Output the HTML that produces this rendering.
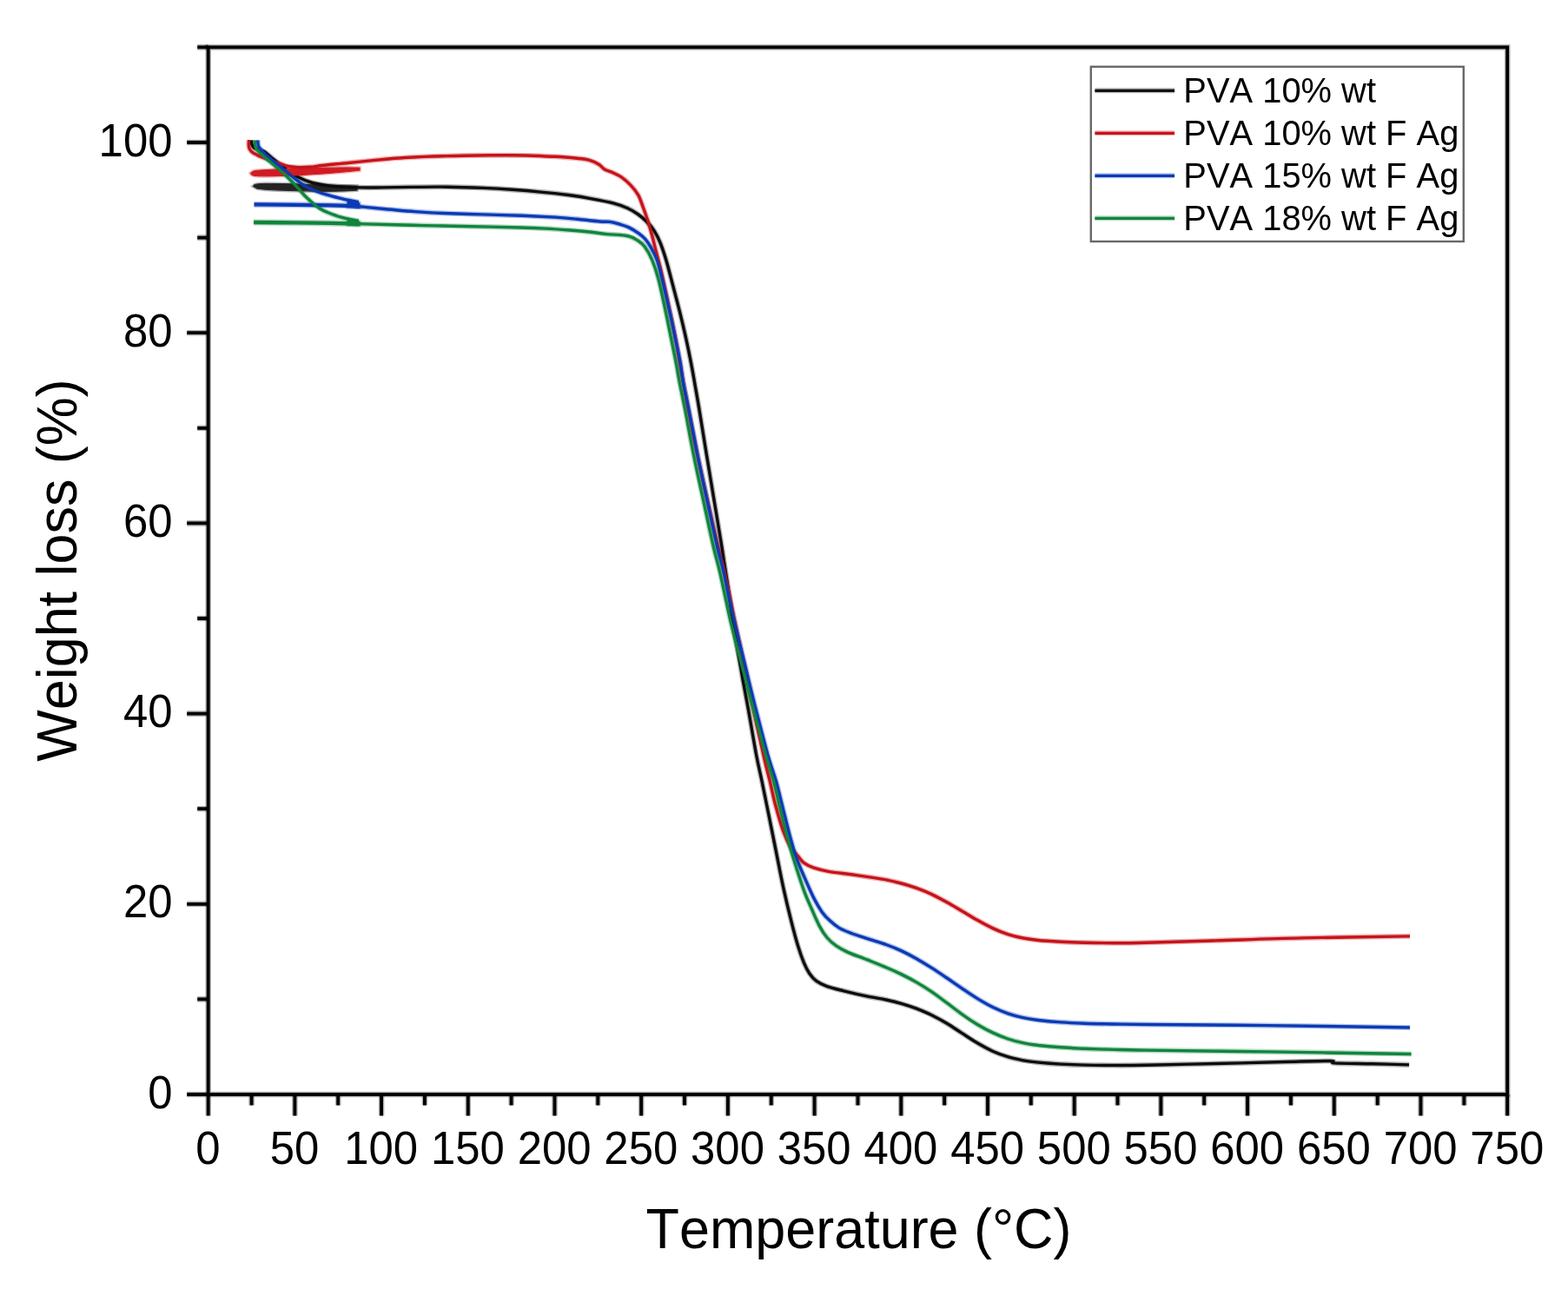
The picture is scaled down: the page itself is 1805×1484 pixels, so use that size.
<!DOCTYPE html>
<html lang="en"><head><meta charset="utf-8"><title>TGA - Weight loss vs Temperature</title>
<style>html,body{margin:0;padding:0;background:#fff}body{width:1805px;height:1484px;overflow:hidden}svg{display:block}text{font-family:"Liberation Sans",Arial,Helvetica,sans-serif;fill:#000;font-kerning:none;letter-spacing:0}</style></head><body>
<svg width="1805" height="1484" viewBox="0 0 1805 1484">
<rect width="1805" height="1484" fill="#fff"/>
<g fill="none" stroke-linecap="butt" stroke-linejoin="round" stroke-width="3.40">
<path d="M291.3 214.5C291.8 214.1 291.7 212.8 294.0 212.3C296.3 211.8 297.8 211.5 305.0 211.4C312.2 211.3 327.8 211.6 337.0 211.8C346.2 212.0 351.2 212.5 360.0 212.8C368.8 213.1 381.5 213.6 390.0 213.8C398.5 214.0 407.5 214.1 411.0 214.2L411.0 219.2C408.3 219.3 401.8 219.8 395.0 220.0C388.2 220.2 379.7 220.4 370.0 220.3C360.3 220.2 347.0 219.9 337.0 219.6C327.0 219.3 316.8 219.0 310.0 218.6C303.2 218.2 298.3 217.4 296.0 217.2Z" fill="none" stroke="#242424" stroke-opacity="0.30" stroke-width="3.80" stroke-linejoin="miter"/>
<path d="M289.5 161.5C289.6 162.3 289.5 165.1 290.0 166.5C290.5 167.9 291.2 169.1 292.5 170.0C293.8 170.9 296.0 171.4 298.0 172.2C300.0 173.0 302.1 173.4 304.4 174.8C306.6 176.2 307.8 177.5 311.5 180.5C315.2 183.5 321.2 188.9 326.5 192.8C331.8 196.7 337.5 200.9 343.0 203.8C348.5 206.8 353.2 208.8 359.7 210.5C366.2 212.2 373.0 213.3 381.9 214.2C390.8 215.1 403.3 215.6 413.0 215.9C422.7 216.2 430.0 216.0 440.0 215.9C450.0 215.8 460.7 215.5 473.2 215.4C485.7 215.2 500.9 215.0 514.8 215.2C528.6 215.4 543.8 215.9 556.3 216.4C568.8 216.9 578.5 217.5 589.6 218.3C600.7 219.1 611.7 220.0 622.8 221.1C633.9 222.1 646.3 223.5 656.0 224.7C665.7 226.0 672.7 227.2 681.0 228.8C689.3 230.3 699.1 232.1 706.0 233.9C712.9 235.7 717.8 237.6 722.5 239.7C727.2 241.8 730.5 243.9 734.2 246.5C737.9 249.1 741.3 252.1 744.5 255.3C747.7 258.5 750.6 261.7 753.2 265.8C755.8 269.9 757.9 274.0 760.2 279.8C762.5 285.6 764.9 292.9 767.2 300.8C769.5 308.7 771.7 317.5 774.2 327.1C776.7 336.7 779.8 348.1 782.4 358.6C785.0 369.1 787.7 380.6 789.8 390.2C791.9 399.8 793.6 408.1 795.2 416.4C796.8 424.7 797.9 430.6 799.5 440.0C801.1 449.4 802.8 458.3 805.1 472.5C807.5 486.7 810.7 507.5 813.6 525.0C816.5 542.5 819.4 560.1 822.3 577.6C825.2 595.1 828.3 612.9 831.0 630.0C833.7 647.1 836.0 663.3 838.5 680.0C841.0 696.7 843.3 712.9 846.1 730.0C848.9 747.1 852.5 768.0 855.1 782.6C857.7 797.2 859.0 803.0 861.6 817.6C864.2 832.2 868.2 856.3 870.8 870.0C873.4 883.7 875.0 889.2 877.2 900.0C879.5 910.8 881.6 921.9 884.3 935.0C886.9 948.1 890.2 964.2 893.1 978.8C896.0 993.4 898.9 1008.9 901.9 1022.6C904.9 1036.3 908.2 1050.0 911.0 1061.1C913.8 1072.2 916.2 1081.2 918.6 1089.1C921.0 1097.0 923.2 1103.1 925.4 1108.4C927.6 1113.7 929.4 1117.2 931.8 1120.7C934.2 1124.2 936.4 1126.9 939.8 1129.4C943.2 1131.9 946.9 1133.7 952.1 1135.6C957.4 1137.5 963.7 1138.9 971.3 1140.8C978.9 1142.7 989.5 1145.2 997.6 1146.9C1005.7 1148.6 1013.4 1149.6 1020.0 1151.0C1026.7 1152.5 1031.7 1153.7 1037.5 1155.4C1043.3 1157.1 1049.2 1159.0 1055.0 1161.2C1060.8 1163.5 1066.8 1165.9 1072.6 1168.7C1078.4 1171.6 1084.3 1174.8 1090.1 1178.3C1095.9 1181.8 1101.8 1185.9 1107.6 1189.6C1113.4 1193.4 1119.2 1197.4 1125.1 1200.8C1130.9 1204.2 1136.8 1207.5 1142.7 1210.2C1148.6 1212.8 1154.4 1215.0 1160.2 1216.7C1166.0 1218.5 1171.9 1219.7 1177.7 1220.8C1183.5 1221.8 1187.9 1222.4 1195.2 1223.1C1202.5 1223.8 1212.7 1224.6 1221.5 1225.1C1230.3 1225.6 1237.6 1225.9 1247.8 1226.1C1258.0 1226.3 1270.8 1226.5 1282.8 1226.5C1294.8 1226.6 1300.5 1226.6 1320.0 1226.2C1339.5 1225.9 1373.1 1225.1 1399.7 1224.5C1426.3 1223.9 1457.5 1223.0 1479.5 1222.5C1501.5 1222.0 1521.9 1221.3 1531.4 1221.5C1540.9 1221.7 1528.3 1223.4 1536.3 1223.9C1544.3 1224.4 1564.9 1224.4 1579.2 1224.7C1593.5 1225.0 1614.9 1225.7 1622.1 1225.9" stroke="#0d0d0d" stroke-opacity="0.30" stroke-width="6.20"/>
<path d="M288.3 199.4C288.9 199.0 290.1 197.5 292.0 196.9C293.9 196.3 295.3 196.3 300.0 196.0C304.7 195.7 312.5 195.2 320.0 194.9C327.5 194.6 335.0 194.3 345.0 194.0C355.0 193.7 370.8 193.4 380.0 193.2C389.2 193.0 394.3 192.9 400.0 192.9C405.7 192.9 411.7 193.1 414.0 193.1L414.0 196.2C411.7 196.4 404.8 197.1 400.0 197.6C395.2 198.1 389.8 198.5 385.0 198.9C380.2 199.3 378.5 199.5 371.0 200.0C363.5 200.5 350.2 201.4 340.0 201.9C329.8 202.4 317.7 202.7 310.0 202.8C302.3 202.9 297.4 202.8 294.0 202.5C290.6 202.2 290.2 201.4 289.5 201.2Z" fill="none" stroke="#d01c22" stroke-opacity="0.30" stroke-width="3.80" stroke-linejoin="miter"/>
<path d="M286.6 161.0C286.6 162.0 286.2 165.2 286.3 167.0C286.4 168.8 286.6 170.1 287.3 171.5C288.0 172.9 289.2 174.2 290.6 175.3C292.1 176.5 294.3 177.5 296.0 178.4C297.7 179.3 298.5 179.7 300.8 180.6C303.1 181.5 306.8 182.8 310.0 184.0C313.2 185.2 317.5 186.7 320.3 187.7C323.1 188.7 324.8 189.4 327.0 190.1C329.2 190.8 331.0 191.3 333.6 191.7C336.2 192.1 338.8 192.5 342.5 192.6C346.2 192.7 351.3 192.7 356.0 192.3C360.7 192.0 364.8 191.2 370.8 190.5C376.8 189.8 384.6 189.1 392.0 188.4C399.4 187.7 406.3 187.0 415.0 186.1C423.7 185.2 435.8 184.0 444.3 183.2C452.8 182.4 458.6 182.0 466.0 181.5C473.4 181.1 481.3 180.7 488.6 180.4C495.9 180.1 502.6 179.9 510.0 179.7C517.4 179.5 523.8 179.3 533.0 179.2C542.2 179.0 555.6 178.9 565.0 178.8C574.4 178.8 582.8 178.7 589.6 178.8C596.4 178.8 597.7 178.8 606.0 179.0C614.3 179.3 629.7 179.8 639.4 180.3C649.1 180.8 658.0 181.6 664.4 182.2C670.8 182.9 673.6 183.0 677.7 184.2C681.9 185.4 686.2 187.4 689.3 189.2C692.3 191.0 693.2 193.4 696.0 195.0C698.8 196.6 702.7 197.4 706.0 199.0C709.3 200.6 712.7 202.0 716.0 204.3C719.3 206.7 722.8 209.8 725.9 213.1C729.0 216.4 732.2 220.2 734.6 224.3C737.0 228.4 738.2 232.9 740.0 237.8C741.8 242.7 743.8 248.1 745.6 253.6C747.4 259.1 748.9 264.6 750.6 271.0C752.3 277.4 754.1 285.0 755.9 292.0C757.7 299.0 758.8 302.5 761.2 313.0C763.6 323.5 767.6 342.2 770.3 355.0C773.0 367.8 774.9 375.8 777.6 390.0C780.3 404.2 783.9 426.2 786.4 440.0C788.9 453.8 789.8 458.3 792.6 472.5C795.4 486.7 799.3 507.5 803.0 525.0C806.7 542.5 810.8 560.1 814.7 577.6C818.6 595.1 823.3 616.3 826.6 630.0C829.9 643.7 831.3 646.2 834.4 660.0C837.5 673.8 841.5 695.0 845.2 712.5C848.9 730.0 852.9 747.5 856.6 765.0C860.3 782.5 863.9 800.1 867.6 817.6C871.3 835.1 875.9 856.3 879.0 870.0C882.1 883.7 884.1 890.6 886.4 900.0C888.6 909.4 890.0 917.0 892.5 926.3C895.0 935.6 898.4 947.8 901.3 956.0C904.2 964.2 907.1 970.3 910.0 975.3C912.9 980.3 916.2 982.7 918.8 985.8C921.4 988.9 922.9 991.5 925.8 993.7C928.7 995.9 931.6 997.3 936.3 998.9C941.0 1000.5 946.5 1002.0 953.8 1003.3C961.1 1004.6 971.3 1005.6 980.1 1006.8C988.9 1008.0 999.8 1009.6 1006.4 1010.6C1013.0 1011.6 1014.8 1011.8 1020.0 1012.9C1025.2 1014.0 1031.7 1015.4 1037.5 1017.0C1043.3 1018.5 1049.2 1020.3 1055.0 1022.4C1060.8 1024.5 1066.8 1026.9 1072.6 1029.6C1078.4 1032.4 1084.3 1035.6 1090.1 1038.8C1095.9 1042.0 1101.8 1045.6 1107.6 1049.0C1113.4 1052.4 1119.2 1056.0 1125.1 1059.3C1130.9 1062.6 1136.8 1065.9 1142.7 1068.6C1148.6 1071.4 1154.4 1073.7 1160.2 1075.6C1166.0 1077.5 1171.9 1078.9 1177.7 1080.0C1183.5 1081.1 1187.9 1081.7 1195.2 1082.5C1202.5 1083.2 1212.7 1083.8 1221.5 1084.3C1230.3 1084.8 1237.6 1085.0 1247.8 1085.2C1258.0 1085.5 1270.8 1085.7 1282.8 1085.7C1294.8 1085.7 1300.5 1085.7 1320.0 1085.2C1339.5 1084.8 1369.8 1083.8 1399.7 1082.9C1429.6 1082.0 1462.2 1080.7 1499.4 1079.9C1536.6 1079.1 1602.4 1078.2 1623.0 1077.9" stroke="#c6131a" stroke-opacity="0.30" stroke-width="6.20"/>
<path d="M296.8 161.5C296.8 162.2 296.8 164.2 297.0 165.5C297.2 166.8 297.1 167.4 298.0 169.0C298.9 170.6 300.4 172.5 302.6 174.8C304.9 177.1 308.6 180.3 311.5 182.8C314.4 185.3 317.4 187.5 320.3 189.9C323.2 192.3 326.2 194.6 329.2 197.0C332.1 199.4 334.8 201.9 338.0 204.5C341.2 207.1 345.1 210.2 348.6 212.5C352.1 214.8 355.3 216.3 359.0 218.0C362.7 219.7 365.1 220.8 370.8 222.6C376.5 224.4 386.0 226.9 393.0 228.6C400.0 230.3 409.7 232.1 413.0 232.8" stroke="#0a3ab6" stroke-opacity="0.30" stroke-width="6.20"/>
<path d="M292.5 235.4C300.4 235.5 325.4 235.7 340.0 235.8C354.6 236.0 367.8 236.1 380.0 236.3C392.2 236.6 407.9 237.1 413.5 237.3" stroke="#0a3ab6" stroke-opacity="0.30" stroke-width="7.00"/>
<path d="M400.0 231.5C401.2 231.7 404.7 232.2 407.0 232.6C409.3 232.9 412.8 233.4 414.0 233.6L414.0 239.4C412.5 239.3 407.3 239.1 405.0 239.0C402.7 238.9 400.8 238.8 400.0 238.8Z" fill="none" stroke="#0a3ab6" stroke-opacity="0.30" stroke-width="3.40" stroke-linejoin="miter"/>
<path d="M408.0 237.2C410.0 237.4 413.9 237.8 420.0 238.4C426.1 239.0 434.7 239.9 444.3 240.8C453.9 241.6 466.5 242.8 477.6 243.6C488.7 244.4 497.9 244.9 510.8 245.5C523.7 246.0 540.2 246.5 555.1 246.9C570.0 247.4 586.0 247.7 600.0 248.2C614.0 248.8 628.7 249.5 639.4 250.1C650.1 250.8 655.8 251.4 664.4 252.2C673.0 253.1 684.5 254.5 690.8 255.0C697.0 255.5 698.2 254.9 701.9 255.4C705.6 255.9 709.3 256.9 713.0 258.0C716.7 259.1 720.3 260.1 724.0 261.9C727.7 263.7 732.0 266.4 735.1 268.6C738.2 270.9 740.5 272.6 742.9 275.4C745.3 278.2 747.5 281.7 749.5 285.2C751.5 288.7 753.4 292.2 755.1 296.3C756.8 300.4 757.0 300.2 759.5 310.0C762.0 319.8 767.1 341.7 770.1 355.1C773.1 368.5 775.4 380.0 777.5 390.2C779.6 400.4 781.4 408.1 782.9 416.4C784.4 424.7 784.8 430.6 786.5 440.0C788.2 449.4 790.3 458.3 793.1 472.5C795.9 486.7 799.7 507.5 803.2 525.0C806.8 542.5 810.6 560.1 814.4 577.6C818.2 595.1 822.6 616.3 825.8 630.0C829.0 643.7 830.3 646.2 833.4 660.0C836.5 673.8 840.6 695.0 844.6 712.5C848.6 730.0 853.1 747.5 857.4 765.0C861.7 782.5 865.9 800.1 870.4 817.6C874.9 835.1 880.2 856.3 884.1 870.0C888.0 883.7 890.8 890.0 893.6 900.0C896.4 910.0 898.5 919.6 901.1 929.8C903.7 940.0 906.4 951.7 909.0 961.3C911.6 970.9 913.7 978.9 916.8 987.6C919.9 996.4 924.3 1005.9 927.7 1013.8C931.1 1021.7 934.2 1028.9 937.3 1034.9C940.4 1040.9 943.3 1045.8 946.2 1049.9C949.1 1054.0 951.6 1056.5 954.9 1059.6C958.2 1062.7 961.9 1065.9 966.1 1068.4C970.3 1070.9 974.9 1072.5 980.1 1074.5C985.4 1076.5 991.0 1078.1 997.6 1080.3C1004.2 1082.5 1013.4 1085.2 1020.0 1087.5C1026.7 1089.9 1031.7 1091.9 1037.5 1094.6C1043.3 1097.3 1049.2 1100.4 1055.0 1103.7C1060.8 1107.0 1066.8 1110.7 1072.6 1114.4C1078.4 1118.1 1084.3 1122.1 1090.1 1126.0C1095.9 1130.0 1101.8 1134.2 1107.6 1138.1C1113.4 1142.0 1119.2 1146.0 1125.1 1149.6C1130.9 1153.1 1136.8 1156.6 1142.7 1159.5C1148.6 1162.3 1154.4 1164.8 1160.2 1166.8C1166.0 1168.8 1171.9 1170.3 1177.7 1171.6C1183.5 1172.9 1187.9 1173.6 1195.2 1174.5C1202.5 1175.3 1212.7 1176.3 1221.5 1176.9C1230.3 1177.5 1237.6 1177.8 1247.8 1178.2C1258.0 1178.6 1270.8 1178.8 1282.8 1179.0C1294.8 1179.2 1290.5 1179.2 1320.0 1179.5C1349.5 1179.7 1409.1 1180.0 1459.6 1180.6C1510.1 1181.2 1595.8 1182.6 1623.0 1183.0" stroke="#0a3ab6" stroke-opacity="0.30" stroke-width="6.20"/>
<path d="M293.7 161.5C293.7 162.2 293.5 164.6 293.6 166.0C293.7 167.4 293.5 168.5 294.3 170.0C295.1 171.5 296.8 173.2 298.2 174.8C299.6 176.4 300.4 177.3 302.6 179.3C304.8 181.3 308.6 184.3 311.5 186.8C314.4 189.3 317.4 191.7 320.3 194.3C323.2 196.9 326.2 199.5 329.2 202.3C332.1 205.1 335.7 208.8 338.0 211.2C340.3 213.6 340.8 214.1 343.0 216.5C345.2 218.9 348.2 222.7 351.0 225.5C353.8 228.3 356.9 231.1 359.7 233.5C362.5 235.9 365.2 238.2 368.0 240.0C370.8 241.8 372.1 242.5 376.3 244.2C380.5 245.9 386.9 248.5 393.0 250.2C399.1 251.9 409.7 253.8 413.0 254.5" stroke="#10853c" stroke-opacity="0.30" stroke-width="6.20"/>
<path d="M292.0 256.0C300.0 256.1 325.3 256.2 340.0 256.4C354.7 256.5 367.8 256.7 380.0 256.9C392.2 257.1 407.9 257.5 413.5 257.6" stroke="#10853c" stroke-opacity="0.30" stroke-width="7.20"/>
<path d="M400.0 253.0C401.2 253.2 404.7 253.8 407.0 254.2C409.3 254.6 412.8 255.0 414.0 255.2L414.0 259.8C412.5 259.8 407.3 259.7 405.0 259.6C402.7 259.5 400.8 259.4 400.0 259.4Z" fill="none" stroke="#10853c" stroke-opacity="0.30" stroke-width="3.40" stroke-linejoin="miter"/>
<path d="M408.0 257.5C410.0 257.6 413.9 257.7 420.0 257.9C426.1 258.0 432.9 258.2 444.3 258.5C455.7 258.8 473.8 259.2 488.6 259.6C503.4 259.9 514.4 260.1 533.0 260.5C551.6 260.9 585.0 261.6 600.0 262.0C615.0 262.4 613.5 262.4 622.8 262.9C632.1 263.4 646.3 264.2 656.0 265.0C665.7 265.7 673.8 266.5 681.0 267.3C688.2 268.1 693.8 269.1 699.3 269.6C704.8 270.1 709.8 270.1 714.0 270.5C718.2 270.9 721.3 271.2 724.5 272.2C727.7 273.2 730.4 274.4 733.3 276.3C736.2 278.2 739.1 279.9 742.0 283.8C744.9 287.7 748.2 293.4 750.8 299.6C753.4 305.8 755.5 312.1 757.8 320.8C760.1 329.5 762.3 340.0 764.8 351.6C767.3 363.2 770.5 379.4 772.7 390.2C774.9 401.0 776.4 408.1 778.0 416.4C779.6 424.7 780.4 430.6 782.2 440.0C784.0 449.4 786.0 458.3 788.8 472.5C791.5 486.7 795.2 507.5 798.7 525.0C802.2 542.5 806.2 560.1 810.0 577.6C813.8 595.1 818.2 616.3 821.4 630.0C824.6 643.7 825.8 646.2 829.0 660.0C832.2 673.8 836.3 695.0 840.4 712.5C844.5 730.0 849.1 747.5 853.6 765.0C858.1 782.5 862.9 800.1 867.6 817.6C872.3 835.1 877.7 856.3 881.6 870.0C885.5 883.7 888.1 890.0 890.8 900.0C893.5 910.0 895.2 919.0 897.8 929.8C900.4 940.6 903.6 954.0 906.5 964.8C909.4 975.6 912.1 984.4 915.3 994.6C918.5 1004.8 922.6 1017.4 925.8 1026.1C929.0 1034.8 931.7 1040.3 934.6 1047.0C937.5 1053.7 940.4 1060.7 943.3 1066.1C946.2 1071.5 948.9 1075.7 952.1 1079.5C955.3 1083.3 958.5 1086.1 962.6 1088.9C966.7 1091.8 970.8 1094.0 976.6 1096.6C982.4 1099.2 990.4 1101.8 997.6 1104.7C1004.8 1107.6 1013.4 1111.0 1020.0 1113.8C1026.7 1116.6 1031.7 1118.8 1037.5 1121.6C1043.3 1124.4 1049.2 1127.5 1055.0 1130.9C1060.8 1134.2 1066.8 1138.0 1072.6 1141.9C1078.4 1145.9 1084.3 1150.4 1090.1 1154.7C1095.9 1159.0 1101.8 1163.7 1107.6 1167.8C1113.4 1172.0 1119.2 1175.9 1125.1 1179.5C1130.9 1183.0 1136.8 1186.2 1142.7 1188.9C1148.6 1191.7 1154.4 1194.0 1160.2 1196.0C1166.0 1198.0 1171.9 1199.5 1177.7 1200.7C1183.5 1202.0 1187.9 1202.6 1195.2 1203.5C1202.5 1204.3 1212.7 1205.2 1221.5 1205.8C1230.3 1206.5 1237.6 1206.8 1247.8 1207.3C1258.0 1207.7 1270.8 1208.1 1282.8 1208.4C1294.8 1208.7 1290.5 1208.7 1320.0 1209.1C1349.5 1209.5 1408.8 1210.2 1459.6 1210.9C1510.4 1211.6 1597.1 1213.1 1624.6 1213.5" stroke="#10853c" stroke-opacity="0.30" stroke-width="6.20"/>
<path d="M291.3 214.5C291.8 214.1 291.7 212.8 294.0 212.3C296.3 211.8 297.8 211.5 305.0 211.4C312.2 211.3 327.8 211.6 337.0 211.8C346.2 212.0 351.2 212.5 360.0 212.8C368.8 213.1 381.5 213.6 390.0 213.8C398.5 214.0 407.5 214.1 411.0 214.2L411.0 219.2C408.3 219.3 401.8 219.8 395.0 220.0C388.2 220.2 379.7 220.4 370.0 220.3C360.3 220.2 347.0 219.9 337.0 219.6C327.0 219.3 316.8 219.0 310.0 218.6C303.2 218.2 298.3 217.4 296.0 217.2Z" fill="#242424" stroke="#242424" stroke-width="1.00" stroke-linejoin="miter"/>
<path d="M289.5 161.5C289.6 162.3 289.5 165.1 290.0 166.5C290.5 167.9 291.2 169.1 292.5 170.0C293.8 170.9 296.0 171.4 298.0 172.2C300.0 173.0 302.1 173.4 304.4 174.8C306.6 176.2 307.8 177.5 311.5 180.5C315.2 183.5 321.2 188.9 326.5 192.8C331.8 196.7 337.5 200.9 343.0 203.8C348.5 206.8 353.2 208.8 359.7 210.5C366.2 212.2 373.0 213.3 381.9 214.2C390.8 215.1 403.3 215.6 413.0 215.9C422.7 216.2 430.0 216.0 440.0 215.9C450.0 215.8 460.7 215.5 473.2 215.4C485.7 215.2 500.9 215.0 514.8 215.2C528.6 215.4 543.8 215.9 556.3 216.4C568.8 216.9 578.5 217.5 589.6 218.3C600.7 219.1 611.7 220.0 622.8 221.1C633.9 222.1 646.3 223.5 656.0 224.7C665.7 226.0 672.7 227.2 681.0 228.8C689.3 230.3 699.1 232.1 706.0 233.9C712.9 235.7 717.8 237.6 722.5 239.7C727.2 241.8 730.5 243.9 734.2 246.5C737.9 249.1 741.3 252.1 744.5 255.3C747.7 258.5 750.6 261.7 753.2 265.8C755.8 269.9 757.9 274.0 760.2 279.8C762.5 285.6 764.9 292.9 767.2 300.8C769.5 308.7 771.7 317.5 774.2 327.1C776.7 336.7 779.8 348.1 782.4 358.6C785.0 369.1 787.7 380.6 789.8 390.2C791.9 399.8 793.6 408.1 795.2 416.4C796.8 424.7 797.9 430.6 799.5 440.0C801.1 449.4 802.8 458.3 805.1 472.5C807.5 486.7 810.7 507.5 813.6 525.0C816.5 542.5 819.4 560.1 822.3 577.6C825.2 595.1 828.3 612.9 831.0 630.0C833.7 647.1 836.0 663.3 838.5 680.0C841.0 696.7 843.3 712.9 846.1 730.0C848.9 747.1 852.5 768.0 855.1 782.6C857.7 797.2 859.0 803.0 861.6 817.6C864.2 832.2 868.2 856.3 870.8 870.0C873.4 883.7 875.0 889.2 877.2 900.0C879.5 910.8 881.6 921.9 884.3 935.0C886.9 948.1 890.2 964.2 893.1 978.8C896.0 993.4 898.9 1008.9 901.9 1022.6C904.9 1036.3 908.2 1050.0 911.0 1061.1C913.8 1072.2 916.2 1081.2 918.6 1089.1C921.0 1097.0 923.2 1103.1 925.4 1108.4C927.6 1113.7 929.4 1117.2 931.8 1120.7C934.2 1124.2 936.4 1126.9 939.8 1129.4C943.2 1131.9 946.9 1133.7 952.1 1135.6C957.4 1137.5 963.7 1138.9 971.3 1140.8C978.9 1142.7 989.5 1145.2 997.6 1146.9C1005.7 1148.6 1013.4 1149.6 1020.0 1151.0C1026.7 1152.5 1031.7 1153.7 1037.5 1155.4C1043.3 1157.1 1049.2 1159.0 1055.0 1161.2C1060.8 1163.5 1066.8 1165.9 1072.6 1168.7C1078.4 1171.6 1084.3 1174.8 1090.1 1178.3C1095.9 1181.8 1101.8 1185.9 1107.6 1189.6C1113.4 1193.4 1119.2 1197.4 1125.1 1200.8C1130.9 1204.2 1136.8 1207.5 1142.7 1210.2C1148.6 1212.8 1154.4 1215.0 1160.2 1216.7C1166.0 1218.5 1171.9 1219.7 1177.7 1220.8C1183.5 1221.8 1187.9 1222.4 1195.2 1223.1C1202.5 1223.8 1212.7 1224.6 1221.5 1225.1C1230.3 1225.6 1237.6 1225.9 1247.8 1226.1C1258.0 1226.3 1270.8 1226.5 1282.8 1226.5C1294.8 1226.6 1300.5 1226.6 1320.0 1226.2C1339.5 1225.9 1373.1 1225.1 1399.7 1224.5C1426.3 1223.9 1457.5 1223.0 1479.5 1222.5C1501.5 1222.0 1521.9 1221.3 1531.4 1221.5C1540.9 1221.7 1528.3 1223.4 1536.3 1223.9C1544.3 1224.4 1564.9 1224.4 1579.2 1224.7C1593.5 1225.0 1614.9 1225.7 1622.1 1225.9" stroke="#0d0d0d" stroke-width="3.40"/>
<path d="M288.3 199.4C288.9 199.0 290.1 197.5 292.0 196.9C293.9 196.3 295.3 196.3 300.0 196.0C304.7 195.7 312.5 195.2 320.0 194.9C327.5 194.6 335.0 194.3 345.0 194.0C355.0 193.7 370.8 193.4 380.0 193.2C389.2 193.0 394.3 192.9 400.0 192.9C405.7 192.9 411.7 193.1 414.0 193.1L414.0 196.2C411.7 196.4 404.8 197.1 400.0 197.6C395.2 198.1 389.8 198.5 385.0 198.9C380.2 199.3 378.5 199.5 371.0 200.0C363.5 200.5 350.2 201.4 340.0 201.9C329.8 202.4 317.7 202.7 310.0 202.8C302.3 202.9 297.4 202.8 294.0 202.5C290.6 202.2 290.2 201.4 289.5 201.2Z" fill="#d01c22" stroke="#d01c22" stroke-width="1.00" stroke-linejoin="miter"/>
<path d="M286.6 161.0C286.6 162.0 286.2 165.2 286.3 167.0C286.4 168.8 286.6 170.1 287.3 171.5C288.0 172.9 289.2 174.2 290.6 175.3C292.1 176.5 294.3 177.5 296.0 178.4C297.7 179.3 298.5 179.7 300.8 180.6C303.1 181.5 306.8 182.8 310.0 184.0C313.2 185.2 317.5 186.7 320.3 187.7C323.1 188.7 324.8 189.4 327.0 190.1C329.2 190.8 331.0 191.3 333.6 191.7C336.2 192.1 338.8 192.5 342.5 192.6C346.2 192.7 351.3 192.7 356.0 192.3C360.7 192.0 364.8 191.2 370.8 190.5C376.8 189.8 384.6 189.1 392.0 188.4C399.4 187.7 406.3 187.0 415.0 186.1C423.7 185.2 435.8 184.0 444.3 183.2C452.8 182.4 458.6 182.0 466.0 181.5C473.4 181.1 481.3 180.7 488.6 180.4C495.9 180.1 502.6 179.9 510.0 179.7C517.4 179.5 523.8 179.3 533.0 179.2C542.2 179.0 555.6 178.9 565.0 178.8C574.4 178.8 582.8 178.7 589.6 178.8C596.4 178.8 597.7 178.8 606.0 179.0C614.3 179.3 629.7 179.8 639.4 180.3C649.1 180.8 658.0 181.6 664.4 182.2C670.8 182.9 673.6 183.0 677.7 184.2C681.9 185.4 686.2 187.4 689.3 189.2C692.3 191.0 693.2 193.4 696.0 195.0C698.8 196.6 702.7 197.4 706.0 199.0C709.3 200.6 712.7 202.0 716.0 204.3C719.3 206.7 722.8 209.8 725.9 213.1C729.0 216.4 732.2 220.2 734.6 224.3C737.0 228.4 738.2 232.9 740.0 237.8C741.8 242.7 743.8 248.1 745.6 253.6C747.4 259.1 748.9 264.6 750.6 271.0C752.3 277.4 754.1 285.0 755.9 292.0C757.7 299.0 758.8 302.5 761.2 313.0C763.6 323.5 767.6 342.2 770.3 355.0C773.0 367.8 774.9 375.8 777.6 390.0C780.3 404.2 783.9 426.2 786.4 440.0C788.9 453.8 789.8 458.3 792.6 472.5C795.4 486.7 799.3 507.5 803.0 525.0C806.7 542.5 810.8 560.1 814.7 577.6C818.6 595.1 823.3 616.3 826.6 630.0C829.9 643.7 831.3 646.2 834.4 660.0C837.5 673.8 841.5 695.0 845.2 712.5C848.9 730.0 852.9 747.5 856.6 765.0C860.3 782.5 863.9 800.1 867.6 817.6C871.3 835.1 875.9 856.3 879.0 870.0C882.1 883.7 884.1 890.6 886.4 900.0C888.6 909.4 890.0 917.0 892.5 926.3C895.0 935.6 898.4 947.8 901.3 956.0C904.2 964.2 907.1 970.3 910.0 975.3C912.9 980.3 916.2 982.7 918.8 985.8C921.4 988.9 922.9 991.5 925.8 993.7C928.7 995.9 931.6 997.3 936.3 998.9C941.0 1000.5 946.5 1002.0 953.8 1003.3C961.1 1004.6 971.3 1005.6 980.1 1006.8C988.9 1008.0 999.8 1009.6 1006.4 1010.6C1013.0 1011.6 1014.8 1011.8 1020.0 1012.9C1025.2 1014.0 1031.7 1015.4 1037.5 1017.0C1043.3 1018.5 1049.2 1020.3 1055.0 1022.4C1060.8 1024.5 1066.8 1026.9 1072.6 1029.6C1078.4 1032.4 1084.3 1035.6 1090.1 1038.8C1095.9 1042.0 1101.8 1045.6 1107.6 1049.0C1113.4 1052.4 1119.2 1056.0 1125.1 1059.3C1130.9 1062.6 1136.8 1065.9 1142.7 1068.6C1148.6 1071.4 1154.4 1073.7 1160.2 1075.6C1166.0 1077.5 1171.9 1078.9 1177.7 1080.0C1183.5 1081.1 1187.9 1081.7 1195.2 1082.5C1202.5 1083.2 1212.7 1083.8 1221.5 1084.3C1230.3 1084.8 1237.6 1085.0 1247.8 1085.2C1258.0 1085.5 1270.8 1085.7 1282.8 1085.7C1294.8 1085.7 1300.5 1085.7 1320.0 1085.2C1339.5 1084.8 1369.8 1083.8 1399.7 1082.9C1429.6 1082.0 1462.2 1080.7 1499.4 1079.9C1536.6 1079.1 1602.4 1078.2 1623.0 1077.9" stroke="#c6131a" stroke-width="3.40"/>
<path d="M296.8 161.5C296.8 162.2 296.8 164.2 297.0 165.5C297.2 166.8 297.1 167.4 298.0 169.0C298.9 170.6 300.4 172.5 302.6 174.8C304.9 177.1 308.6 180.3 311.5 182.8C314.4 185.3 317.4 187.5 320.3 189.9C323.2 192.3 326.2 194.6 329.2 197.0C332.1 199.4 334.8 201.9 338.0 204.5C341.2 207.1 345.1 210.2 348.6 212.5C352.1 214.8 355.3 216.3 359.0 218.0C362.7 219.7 365.1 220.8 370.8 222.6C376.5 224.4 386.0 226.9 393.0 228.6C400.0 230.3 409.7 232.1 413.0 232.8" stroke="#0a3ab6" stroke-width="3.40"/>
<path d="M292.5 235.4C300.4 235.5 325.4 235.7 340.0 235.8C354.6 236.0 367.8 236.1 380.0 236.3C392.2 236.6 407.9 237.1 413.5 237.3" stroke="#0a3ab6" stroke-width="4.20"/>
<path d="M400.0 231.5C401.2 231.7 404.7 232.2 407.0 232.6C409.3 232.9 412.8 233.4 414.0 233.6L414.0 239.4C412.5 239.3 407.3 239.1 405.0 239.0C402.7 238.9 400.8 238.8 400.0 238.8Z" fill="#0a3ab6" stroke="#0a3ab6" stroke-width="0.60" stroke-linejoin="miter"/>
<path d="M408.0 237.2C410.0 237.4 413.9 237.8 420.0 238.4C426.1 239.0 434.7 239.9 444.3 240.8C453.9 241.6 466.5 242.8 477.6 243.6C488.7 244.4 497.9 244.9 510.8 245.5C523.7 246.0 540.2 246.5 555.1 246.9C570.0 247.4 586.0 247.7 600.0 248.2C614.0 248.8 628.7 249.5 639.4 250.1C650.1 250.8 655.8 251.4 664.4 252.2C673.0 253.1 684.5 254.5 690.8 255.0C697.0 255.5 698.2 254.9 701.9 255.4C705.6 255.9 709.3 256.9 713.0 258.0C716.7 259.1 720.3 260.1 724.0 261.9C727.7 263.7 732.0 266.4 735.1 268.6C738.2 270.9 740.5 272.6 742.9 275.4C745.3 278.2 747.5 281.7 749.5 285.2C751.5 288.7 753.4 292.2 755.1 296.3C756.8 300.4 757.0 300.2 759.5 310.0C762.0 319.8 767.1 341.7 770.1 355.1C773.1 368.5 775.4 380.0 777.5 390.2C779.6 400.4 781.4 408.1 782.9 416.4C784.4 424.7 784.8 430.6 786.5 440.0C788.2 449.4 790.3 458.3 793.1 472.5C795.9 486.7 799.7 507.5 803.2 525.0C806.8 542.5 810.6 560.1 814.4 577.6C818.2 595.1 822.6 616.3 825.8 630.0C829.0 643.7 830.3 646.2 833.4 660.0C836.5 673.8 840.6 695.0 844.6 712.5C848.6 730.0 853.1 747.5 857.4 765.0C861.7 782.5 865.9 800.1 870.4 817.6C874.9 835.1 880.2 856.3 884.1 870.0C888.0 883.7 890.8 890.0 893.6 900.0C896.4 910.0 898.5 919.6 901.1 929.8C903.7 940.0 906.4 951.7 909.0 961.3C911.6 970.9 913.7 978.9 916.8 987.6C919.9 996.4 924.3 1005.9 927.7 1013.8C931.1 1021.7 934.2 1028.9 937.3 1034.9C940.4 1040.9 943.3 1045.8 946.2 1049.9C949.1 1054.0 951.6 1056.5 954.9 1059.6C958.2 1062.7 961.9 1065.9 966.1 1068.4C970.3 1070.9 974.9 1072.5 980.1 1074.5C985.4 1076.5 991.0 1078.1 997.6 1080.3C1004.2 1082.5 1013.4 1085.2 1020.0 1087.5C1026.7 1089.9 1031.7 1091.9 1037.5 1094.6C1043.3 1097.3 1049.2 1100.4 1055.0 1103.7C1060.8 1107.0 1066.8 1110.7 1072.6 1114.4C1078.4 1118.1 1084.3 1122.1 1090.1 1126.0C1095.9 1130.0 1101.8 1134.2 1107.6 1138.1C1113.4 1142.0 1119.2 1146.0 1125.1 1149.6C1130.9 1153.1 1136.8 1156.6 1142.7 1159.5C1148.6 1162.3 1154.4 1164.8 1160.2 1166.8C1166.0 1168.8 1171.9 1170.3 1177.7 1171.6C1183.5 1172.9 1187.9 1173.6 1195.2 1174.5C1202.5 1175.3 1212.7 1176.3 1221.5 1176.9C1230.3 1177.5 1237.6 1177.8 1247.8 1178.2C1258.0 1178.6 1270.8 1178.8 1282.8 1179.0C1294.8 1179.2 1290.5 1179.2 1320.0 1179.5C1349.5 1179.7 1409.1 1180.0 1459.6 1180.6C1510.1 1181.2 1595.8 1182.6 1623.0 1183.0" stroke="#0a3ab6" stroke-width="3.40"/>
<path d="M293.7 161.5C293.7 162.2 293.5 164.6 293.6 166.0C293.7 167.4 293.5 168.5 294.3 170.0C295.1 171.5 296.8 173.2 298.2 174.8C299.6 176.4 300.4 177.3 302.6 179.3C304.8 181.3 308.6 184.3 311.5 186.8C314.4 189.3 317.4 191.7 320.3 194.3C323.2 196.9 326.2 199.5 329.2 202.3C332.1 205.1 335.7 208.8 338.0 211.2C340.3 213.6 340.8 214.1 343.0 216.5C345.2 218.9 348.2 222.7 351.0 225.5C353.8 228.3 356.9 231.1 359.7 233.5C362.5 235.9 365.2 238.2 368.0 240.0C370.8 241.8 372.1 242.5 376.3 244.2C380.5 245.9 386.9 248.5 393.0 250.2C399.1 251.9 409.7 253.8 413.0 254.5" stroke="#10853c" stroke-width="3.40"/>
<path d="M292.0 256.0C300.0 256.1 325.3 256.2 340.0 256.4C354.7 256.5 367.8 256.7 380.0 256.9C392.2 257.1 407.9 257.5 413.5 257.6" stroke="#10853c" stroke-width="4.40"/>
<path d="M400.0 253.0C401.2 253.2 404.7 253.8 407.0 254.2C409.3 254.6 412.8 255.0 414.0 255.2L414.0 259.8C412.5 259.8 407.3 259.7 405.0 259.6C402.7 259.5 400.8 259.4 400.0 259.4Z" fill="#10853c" stroke="#10853c" stroke-width="0.60" stroke-linejoin="miter"/>
<path d="M408.0 257.5C410.0 257.6 413.9 257.7 420.0 257.9C426.1 258.0 432.9 258.2 444.3 258.5C455.7 258.8 473.8 259.2 488.6 259.6C503.4 259.9 514.4 260.1 533.0 260.5C551.6 260.9 585.0 261.6 600.0 262.0C615.0 262.4 613.5 262.4 622.8 262.9C632.1 263.4 646.3 264.2 656.0 265.0C665.7 265.7 673.8 266.5 681.0 267.3C688.2 268.1 693.8 269.1 699.3 269.6C704.8 270.1 709.8 270.1 714.0 270.5C718.2 270.9 721.3 271.2 724.5 272.2C727.7 273.2 730.4 274.4 733.3 276.3C736.2 278.2 739.1 279.9 742.0 283.8C744.9 287.7 748.2 293.4 750.8 299.6C753.4 305.8 755.5 312.1 757.8 320.8C760.1 329.5 762.3 340.0 764.8 351.6C767.3 363.2 770.5 379.4 772.7 390.2C774.9 401.0 776.4 408.1 778.0 416.4C779.6 424.7 780.4 430.6 782.2 440.0C784.0 449.4 786.0 458.3 788.8 472.5C791.5 486.7 795.2 507.5 798.7 525.0C802.2 542.5 806.2 560.1 810.0 577.6C813.8 595.1 818.2 616.3 821.4 630.0C824.6 643.7 825.8 646.2 829.0 660.0C832.2 673.8 836.3 695.0 840.4 712.5C844.5 730.0 849.1 747.5 853.6 765.0C858.1 782.5 862.9 800.1 867.6 817.6C872.3 835.1 877.7 856.3 881.6 870.0C885.5 883.7 888.1 890.0 890.8 900.0C893.5 910.0 895.2 919.0 897.8 929.8C900.4 940.6 903.6 954.0 906.5 964.8C909.4 975.6 912.1 984.4 915.3 994.6C918.5 1004.8 922.6 1017.4 925.8 1026.1C929.0 1034.8 931.7 1040.3 934.6 1047.0C937.5 1053.7 940.4 1060.7 943.3 1066.1C946.2 1071.5 948.9 1075.7 952.1 1079.5C955.3 1083.3 958.5 1086.1 962.6 1088.9C966.7 1091.8 970.8 1094.0 976.6 1096.6C982.4 1099.2 990.4 1101.8 997.6 1104.7C1004.8 1107.6 1013.4 1111.0 1020.0 1113.8C1026.7 1116.6 1031.7 1118.8 1037.5 1121.6C1043.3 1124.4 1049.2 1127.5 1055.0 1130.9C1060.8 1134.2 1066.8 1138.0 1072.6 1141.9C1078.4 1145.9 1084.3 1150.4 1090.1 1154.7C1095.9 1159.0 1101.8 1163.7 1107.6 1167.8C1113.4 1172.0 1119.2 1175.9 1125.1 1179.5C1130.9 1183.0 1136.8 1186.2 1142.7 1188.9C1148.6 1191.7 1154.4 1194.0 1160.2 1196.0C1166.0 1198.0 1171.9 1199.5 1177.7 1200.7C1183.5 1202.0 1187.9 1202.6 1195.2 1203.5C1202.5 1204.3 1212.7 1205.2 1221.5 1205.8C1230.3 1206.5 1237.6 1206.8 1247.8 1207.3C1258.0 1207.7 1270.8 1208.1 1282.8 1208.4C1294.8 1208.7 1290.5 1208.7 1320.0 1209.1C1349.5 1209.5 1408.8 1210.2 1459.6 1210.9C1510.4 1211.6 1597.1 1213.1 1624.6 1213.5" stroke="#10853c" stroke-width="3.40"/>
</g>
<g stroke="#000" stroke-opacity="0.30" stroke-width="6.60" fill="none" stroke-linecap="butt">
<rect x="239.7" y="54.4" width="1495.5" height="1205.6"/>
<path d="M239.7 1260.0v24.5M289.6 1260.0v12.5M339.4 1260.0v24.5M389.2 1260.0v12.5M439.1 1260.0v24.5M488.9 1260.0v12.5M538.8 1260.0v24.5M588.6 1260.0v12.5M638.5 1260.0v24.5M688.3 1260.0v12.5M738.2 1260.0v24.5M788.0 1260.0v12.5M837.9 1260.0v24.5M887.8 1260.0v12.5M937.6 1260.0v24.5M987.5 1260.0v12.5M1037.3 1260.0v24.5M1087.2 1260.0v12.5M1137.0 1260.0v24.5M1186.8 1260.0v12.5M1236.7 1260.0v24.5M1286.5 1260.0v12.5M1336.4 1260.0v24.5M1386.2 1260.0v12.5M1436.1 1260.0v24.5M1486.0 1260.0v12.5M1535.8 1260.0v24.5M1585.7 1260.0v12.5M1635.5 1260.0v24.5M1685.4 1260.0v12.5M1735.2 1260.0v24.5M239.7 1260.0h-24.5M239.7 1150.4h-12.5M239.7 1040.8h-24.5M239.7 931.2h-12.5M239.7 821.6h-24.5M239.7 712.0h-12.5M239.7 602.4h-24.5M239.7 492.8h-12.5M239.7 383.2h-24.5M239.7 273.6h-12.5M239.7 164.0h-24.5M239.7 54.4h-12.5"/>
</g>
<g stroke="#000" stroke-width="3.80" fill="none" stroke-linecap="butt">
<rect x="239.7" y="54.4" width="1495.5" height="1205.6"/>
<path d="M239.7 1260.0v24.5M289.6 1260.0v12.5M339.4 1260.0v24.5M389.2 1260.0v12.5M439.1 1260.0v24.5M488.9 1260.0v12.5M538.8 1260.0v24.5M588.6 1260.0v12.5M638.5 1260.0v24.5M688.3 1260.0v12.5M738.2 1260.0v24.5M788.0 1260.0v12.5M837.9 1260.0v24.5M887.8 1260.0v12.5M937.6 1260.0v24.5M987.5 1260.0v12.5M1037.3 1260.0v24.5M1087.2 1260.0v12.5M1137.0 1260.0v24.5M1186.8 1260.0v12.5M1236.7 1260.0v24.5M1286.5 1260.0v12.5M1336.4 1260.0v24.5M1386.2 1260.0v12.5M1436.1 1260.0v24.5M1486.0 1260.0v12.5M1535.8 1260.0v24.5M1585.7 1260.0v12.5M1635.5 1260.0v24.5M1685.4 1260.0v12.5M1735.2 1260.0v24.5M239.7 1260.0h-24.5M239.7 1150.4h-12.5M239.7 1040.8h-24.5M239.7 931.2h-12.5M239.7 821.6h-24.5M239.7 712.0h-12.5M239.7 602.4h-24.5M239.7 492.8h-12.5M239.7 383.2h-24.5M239.7 273.6h-12.5M239.7 164.0h-24.5M239.7 54.4h-12.5"/>
</g>
<g font-size="50.9" text-anchor="middle">
<text transform="translate(239.3 1340.0) scale(1 1.045)">0</text>
<text transform="translate(339.0 1340.0) scale(1 1.045)">50</text>
<text transform="translate(438.7 1340.0) scale(1 1.045)">100</text>
<text transform="translate(538.4 1340.0) scale(1 1.045)">150</text>
<text transform="translate(638.1 1340.0) scale(1 1.045)">200</text>
<text transform="translate(737.8 1340.0) scale(1 1.045)">250</text>
<text transform="translate(837.5 1340.0) scale(1 1.045)">300</text>
<text transform="translate(937.2 1340.0) scale(1 1.045)">350</text>
<text transform="translate(1036.9 1340.0) scale(1 1.045)">400</text>
<text transform="translate(1136.6 1340.0) scale(1 1.045)">450</text>
<text transform="translate(1236.3 1340.0) scale(1 1.045)">500</text>
<text transform="translate(1336.0 1340.0) scale(1 1.045)">550</text>
<text transform="translate(1435.7 1340.0) scale(1 1.045)">600</text>
<text transform="translate(1535.4 1340.0) scale(1 1.045)">650</text>
<text transform="translate(1635.1 1340.0) scale(1 1.045)">700</text>
<text transform="translate(1734.8 1340.0) scale(1 1.045)">750</text>
</g>
<g font-size="50.9" text-anchor="end">
<text transform="translate(198.5 1275.5) scale(1 1.045)">0</text>
<text transform="translate(198.5 1056.3) scale(1 1.045)">20</text>
<text transform="translate(198.5 837.1) scale(1 1.045)">40</text>
<text transform="translate(198.5 617.9) scale(1 1.045)">60</text>
<text transform="translate(198.5 398.7) scale(1 1.045)">80</text>
<text transform="translate(198.5 179.5) scale(1 1.045)">100</text>
</g>
<text transform="translate(988.5 1437.2) scale(1 1.020)" font-size="62.9" text-anchor="middle">Temperature (°C)</text>
<text transform="translate(87.6 656.5) rotate(-90) scale(1 1.020)" font-size="62.9" text-anchor="middle">Weight loss (%)</text>
<rect x="1255.8" y="76.8" width="429.0" height="201.2" fill="#fff" stroke="#686868" stroke-width="2.4"/>
<g font-size="39.9">
<line x1="1260.4" y1="104.3" x2="1352.1" y2="104.3" stroke="#111" stroke-opacity="0.30" stroke-width="6.1"/>
<line x1="1260.4" y1="104.3" x2="1352.1" y2="104.3" stroke="#111" stroke-width="3.3"/>
<text transform="translate(1362.3 117.6) scale(1 1.035)">PVA 10% wt</text>
<line x1="1260.4" y1="153.3" x2="1352.1" y2="153.3" stroke="#c6131a" stroke-opacity="0.30" stroke-width="6.1"/>
<line x1="1260.4" y1="153.3" x2="1352.1" y2="153.3" stroke="#c6131a" stroke-width="3.3"/>
<text transform="translate(1362.3 166.6) scale(1 1.035)">PVA 10% wt F Ag</text>
<line x1="1260.4" y1="202.3" x2="1352.1" y2="202.3" stroke="#0a3ab6" stroke-opacity="0.30" stroke-width="6.1"/>
<line x1="1260.4" y1="202.3" x2="1352.1" y2="202.3" stroke="#0a3ab6" stroke-width="3.3"/>
<text transform="translate(1362.3 215.6) scale(1 1.035)">PVA 15% wt F Ag</text>
<line x1="1260.4" y1="251.3" x2="1352.1" y2="251.3" stroke="#10853c" stroke-opacity="0.30" stroke-width="6.1"/>
<line x1="1260.4" y1="251.3" x2="1352.1" y2="251.3" stroke="#10853c" stroke-width="3.3"/>
<text transform="translate(1362.3 264.6) scale(1 1.035)">PVA 18% wt F Ag</text>
</g>
</svg></body></html>
